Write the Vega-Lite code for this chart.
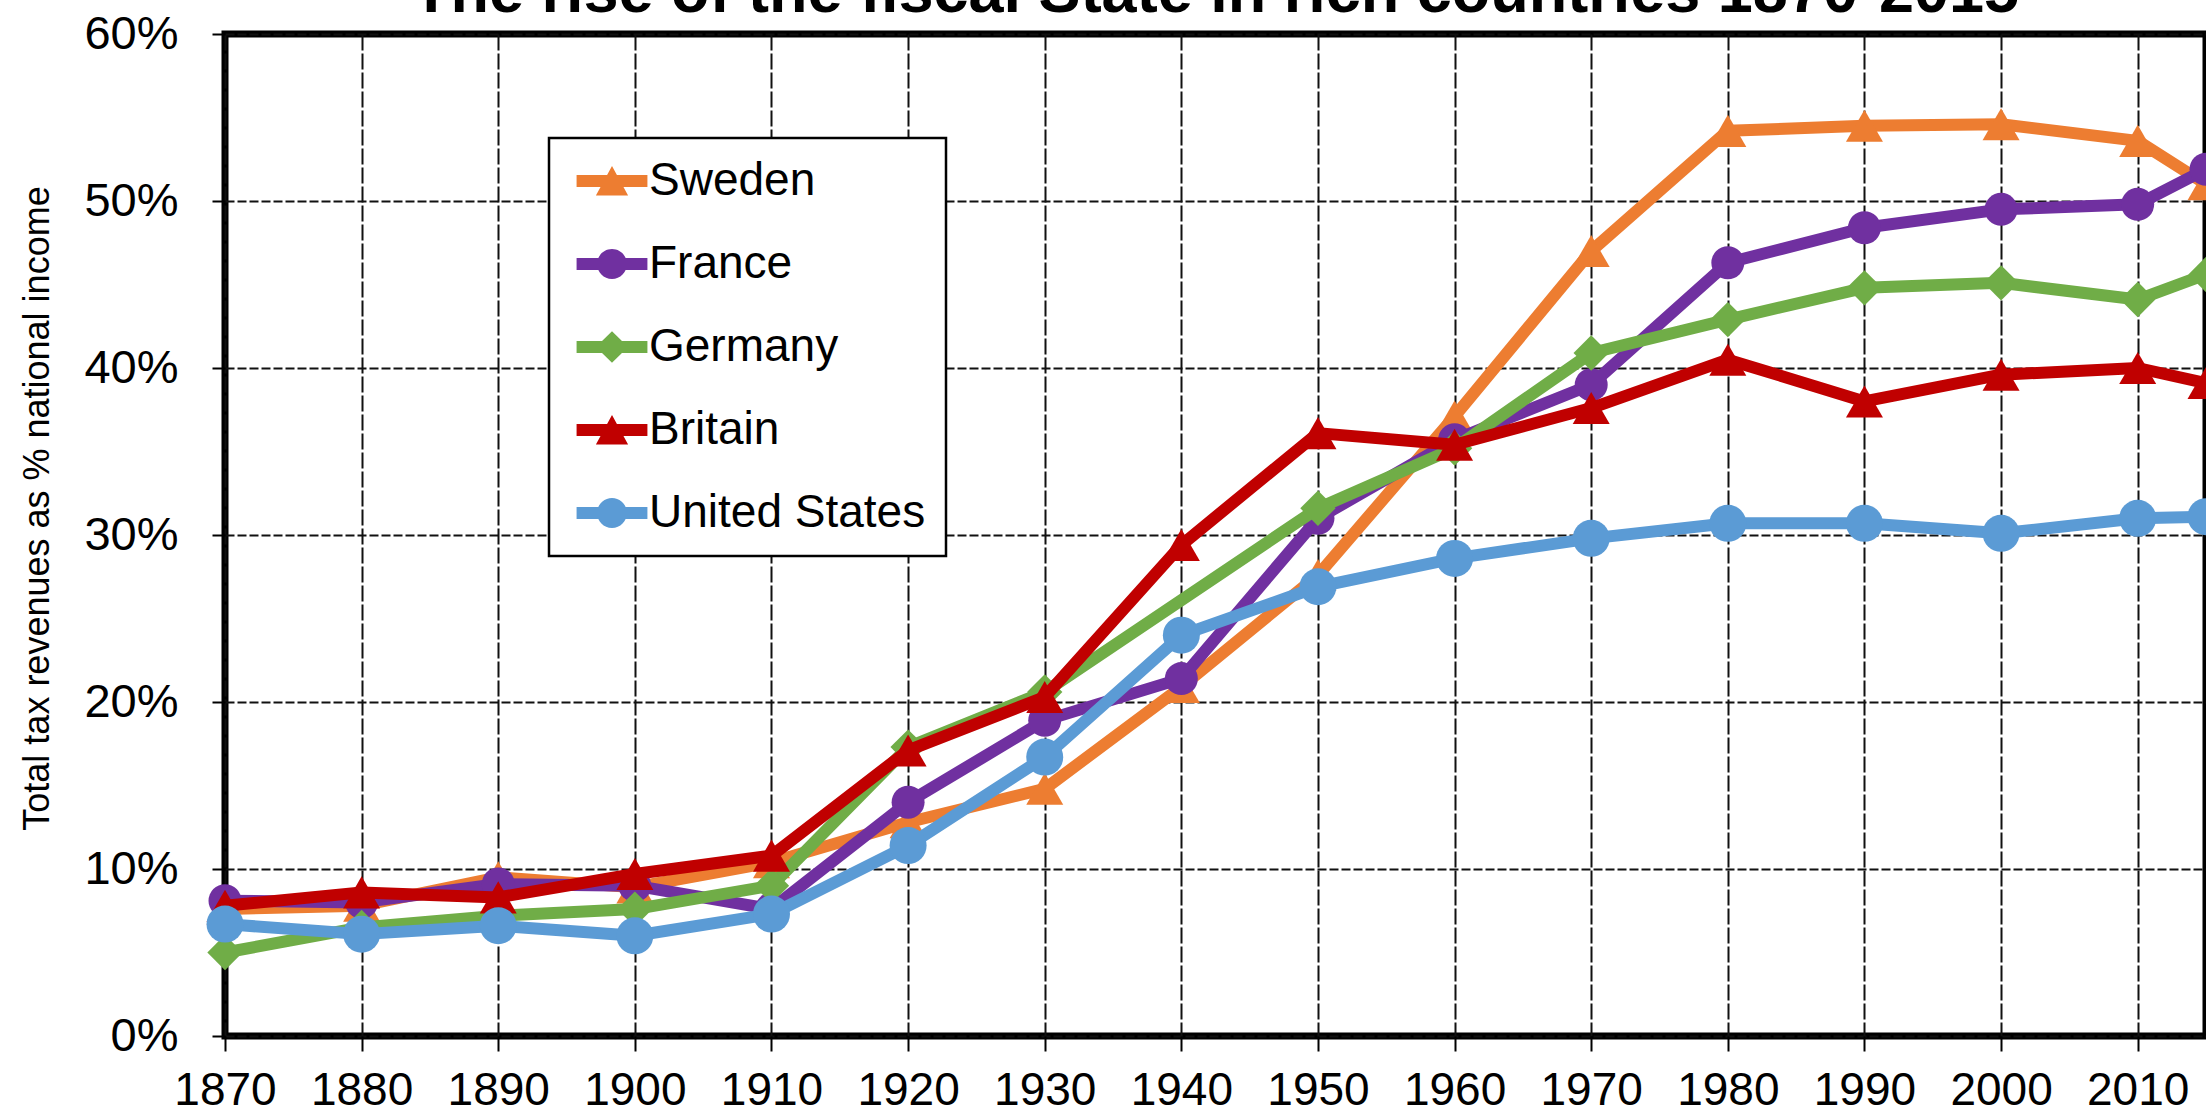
{
  "$schema": "https://vega.github.io/schema/vega-lite/v6.json",
  "width": 1981,
  "height": 1002,
  "autosize": "none",
  "padding": {"left": 225, "top": 34, "right": 0, "bottom": 73},
  "background": "white",
  "title": {
    "text": "The rise of the fiscal State in rich countries 1870-2015",
    "font": "Liberation Sans",
    "fontSize": 63,
    "fontWeight": "bold",
    "color": "black",
    "anchor": "middle",
    "frame": "group",
    "baseline": "alphabetic",
    "offset": -65
  },
  "config": {
    "view": {"stroke": "black", "strokeWidth": 7},
    "axis": {
      "labelFont": "Liberation Sans",
      "titleFont": "Liberation Sans",
      "labelColor": "black",
      "titleColor": "black",
      "domain": false,
      "tickColor": "black",
      "tickWidth": 2,
      "gridColor": "#111111",
      "gridWidth": 2,
      "gridOpacity": 1
    }
  },
  "data": {
    "values": [
      {"country": "Sweden", "year": 1870, "v": 0.076},
      {"country": "Sweden", "year": 1880, "v": 0.078},
      {"country": "Sweden", "year": 1890, "v": 0.095},
      {"country": "Sweden", "year": 1900, "v": 0.089},
      {"country": "Sweden", "year": 1910, "v": 0.104},
      {"country": "Sweden", "year": 1920, "v": 0.128},
      {"country": "Sweden", "year": 1930, "v": 0.148},
      {"country": "Sweden", "year": 1940, "v": 0.209},
      {"country": "Sweden", "year": 1950, "v": 0.276},
      {"country": "Sweden", "year": 1960, "v": 0.371},
      {"country": "Sweden", "year": 1970, "v": 0.470},
      {"country": "Sweden", "year": 1980, "v": 0.542},
      {"country": "Sweden", "year": 1990, "v": 0.545},
      {"country": "Sweden", "year": 2000, "v": 0.546},
      {"country": "Sweden", "year": 2010, "v": 0.536},
      {"country": "Sweden", "year": 2015, "v": 0.510},
      {"country": "France", "year": 1870, "v": 0.081},
      {"country": "France", "year": 1880, "v": 0.080},
      {"country": "France", "year": 1890, "v": 0.091},
      {"country": "France", "year": 1900, "v": 0.090},
      {"country": "France", "year": 1910, "v": 0.076},
      {"country": "France", "year": 1920, "v": 0.140},
      {"country": "France", "year": 1930, "v": 0.189},
      {"country": "France", "year": 1940, "v": 0.214},
      {"country": "France", "year": 1950, "v": 0.310},
      {"country": "France", "year": 1960, "v": 0.357},
      {"country": "France", "year": 1970, "v": 0.390},
      {"country": "France", "year": 1980, "v": 0.463},
      {"country": "France", "year": 1990, "v": 0.484},
      {"country": "France", "year": 2000, "v": 0.495},
      {"country": "France", "year": 2010, "v": 0.498},
      {"country": "France", "year": 2015, "v": 0.519},
      {"country": "Germany", "year": 1870, "v": 0.050},
      {"country": "Germany", "year": 1880, "v": 0.065},
      {"country": "Germany", "year": 1890, "v": 0.072},
      {"country": "Germany", "year": 1900, "v": 0.076},
      {"country": "Germany", "year": 1910, "v": 0.090},
      {"country": "Germany", "year": 1920, "v": 0.173},
      {"country": "Germany", "year": 1930, "v": 0.206},
      {"country": "Germany", "year": 1950, "v": 0.316},
      {"country": "Germany", "year": 1960, "v": 0.352},
      {"country": "Germany", "year": 1970, "v": 0.409},
      {"country": "Germany", "year": 1980, "v": 0.429},
      {"country": "Germany", "year": 1990, "v": 0.448},
      {"country": "Germany", "year": 2000, "v": 0.451},
      {"country": "Germany", "year": 2010, "v": 0.441},
      {"country": "Germany", "year": 2015, "v": 0.456},
      {"country": "Britain", "year": 1870, "v": 0.078},
      {"country": "Britain", "year": 1880, "v": 0.086},
      {"country": "Britain", "year": 1890, "v": 0.083},
      {"country": "Britain", "year": 1900, "v": 0.097},
      {"country": "Britain", "year": 1910, "v": 0.108},
      {"country": "Britain", "year": 1920, "v": 0.171},
      {"country": "Britain", "year": 1930, "v": 0.203},
      {"country": "Britain", "year": 1940, "v": 0.294},
      {"country": "Britain", "year": 1950, "v": 0.361},
      {"country": "Britain", "year": 1960, "v": 0.354},
      {"country": "Britain", "year": 1970, "v": 0.376},
      {"country": "Britain", "year": 1980, "v": 0.405},
      {"country": "Britain", "year": 1990, "v": 0.380},
      {"country": "Britain", "year": 2000, "v": 0.396},
      {"country": "Britain", "year": 2010, "v": 0.400},
      {"country": "Britain", "year": 2015, "v": 0.391},
      {"country": "United States", "year": 1870, "v": 0.067},
      {"country": "United States", "year": 1880, "v": 0.061},
      {"country": "United States", "year": 1890, "v": 0.066},
      {"country": "United States", "year": 1900, "v": 0.060},
      {"country": "United States", "year": 1910, "v": 0.073},
      {"country": "United States", "year": 1920, "v": 0.114},
      {"country": "United States", "year": 1930, "v": 0.167},
      {"country": "United States", "year": 1940, "v": 0.240},
      {"country": "United States", "year": 1950, "v": 0.269},
      {"country": "United States", "year": 1960, "v": 0.286},
      {"country": "United States", "year": 1970, "v": 0.298},
      {"country": "United States", "year": 1980, "v": 0.307},
      {"country": "United States", "year": 1990, "v": 0.307},
      {"country": "United States", "year": 2000, "v": 0.301},
      {"country": "United States", "year": 2010, "v": 0.310},
      {"country": "United States", "year": 2015, "v": 0.311}
    ]
  },
  "encoding": {
    "x": {
      "field": "year",
      "type": "quantitative",
      "scale": {"domain": [1870, 2015], "nice": false, "zero": false},
      "axis": {
        "title": null,
        "values": [1870, 1880, 1890, 1900, 1910, 1920, 1930, 1940, 1950, 1960, 1970, 1980, 1990, 2000, 2010],
        "format": "d",
        "labelFontSize": 46,
        "tickSize": 15,
        "labelPadding": 17,
        "labelFlush": false,
        "labelOverlap": false,
        "gridDash": [16, 3]
      }
    },
    "y": {
      "field": "v",
      "type": "quantitative",
      "scale": {"domain": [0, 0.6], "nice": false},
      "axis": {
        "title": "Total tax revenues as % national income",
        "titleFontSize": 36,
        "titleFontWeight": "normal",
        "titleAngle": -90,
        "titleX": -188,
        "titleY": 474,
        "titleAlign": "center",
        "titleBaseline": "middle",
        "values": [0, 0.1, 0.2, 0.3, 0.4, 0.5, 0.6],
        "format": ".0%",
        "labelFontSize": 47,
        "tickSize": 13,
        "labelPadding": 34,
        "labelFlush": false,
        "labelOverlap": false,
        "gridDash": [9, 3]
      }
    },
    "color": {
      "field": "country",
      "type": "nominal",
      "scale": {
        "domain": ["Sweden", "France", "Germany", "Britain", "United States"],
        "range": ["#ED7D31", "#7030A0", "#70AD47", "#C00000", "#5B9BD5"]
      },
      "legend": {
        "title": null,
        "orient": "none",
        "legendX": 324,
        "legendY": 104,
        "padding": 20,
        "symbolOffset": 20,
        "labelOffset": 14,
        "rowPadding": 37,
        "fillColor": "white",
        "strokeColor": "black",
        "labelFont": "Liberation Sans",
        "labelFontSize": 46,
        "labelColor": "black",
        "labelLimit": 600,
        "symbolSize": 2116,
        "encode": {
          "legend": {"update": {"strokeWidth": {"value": 2.5}}},
          "symbols": {
            "update": {
              "shape": {"signal": "datum.value === 'Sweden' || datum.value === 'Britain' ? 'M-1.54,-0.26H1.54V0.26H-1.54ZM0,-0.65L0.7,0.63H-0.7Z' : datum.value === 'Germany' ? 'M-1.54,-0.26H1.54V0.26H-1.54ZM0,-0.68L0.7,0L0,0.68L-0.7,0Z' : 'M-1.54,-0.26H1.54V0.26H-1.54ZM-0.65,0A0.65,0.65,0,1,1,0.65,0A0.65,0.65,0,1,1,-0.65,0Z'"},
              "fill": {"scale": "color", "field": "value"},
              "stroke": {"value": "transparent"},
              "strokeWidth": {"value": 0},
              "opacity": {"value": 1},
              "fillOpacity": {"value": 1}
            }
          }
        }
      }
    }
  },
  "layer": [
    {
      "transform": [{"filter": "datum.country === 'Sweden'"}],
      "mark": {"type": "line", "strokeWidth": 12, "strokeJoin": "round"}
    },
    {
      "transform": [{"filter": "datum.country === 'Sweden'"}],
      "mark": {"type": "point", "shape": "triangle-up", "size": 1369, "filled": true, "opacity": 1, "strokeWidth": 0}
    },
    {
      "transform": [{"filter": "datum.country === 'France'"}],
      "mark": {"type": "line", "strokeWidth": 12, "strokeJoin": "round"}
    },
    {
      "transform": [{"filter": "datum.country === 'France'"}],
      "mark": {"type": "point", "shape": "circle", "size": 1089, "filled": true, "opacity": 1, "strokeWidth": 0}
    },
    {
      "transform": [{"filter": "datum.country === 'Germany'"}],
      "mark": {"type": "line", "strokeWidth": 12, "strokeJoin": "round"}
    },
    {
      "transform": [{"filter": "datum.country === 'Germany'"}],
      "mark": {"type": "point", "shape": "diamond", "size": 1250, "filled": true, "opacity": 1, "strokeWidth": 0}
    },
    {
      "transform": [{"filter": "datum.country === 'Britain'"}],
      "mark": {"type": "line", "strokeWidth": 12, "strokeJoin": "round"}
    },
    {
      "transform": [{"filter": "datum.country === 'Britain'"}],
      "mark": {"type": "point", "shape": "triangle-up", "size": 1369, "filled": true, "opacity": 1, "strokeWidth": 0}
    },
    {
      "transform": [{"filter": "datum.country === 'United States'"}],
      "mark": {"type": "line", "strokeWidth": 12, "strokeJoin": "round"}
    },
    {
      "transform": [{"filter": "datum.country === 'United States'"}],
      "mark": {"type": "point", "shape": "circle", "size": 1369, "filled": true, "opacity": 1, "strokeWidth": 0}
    }
  ]
}
